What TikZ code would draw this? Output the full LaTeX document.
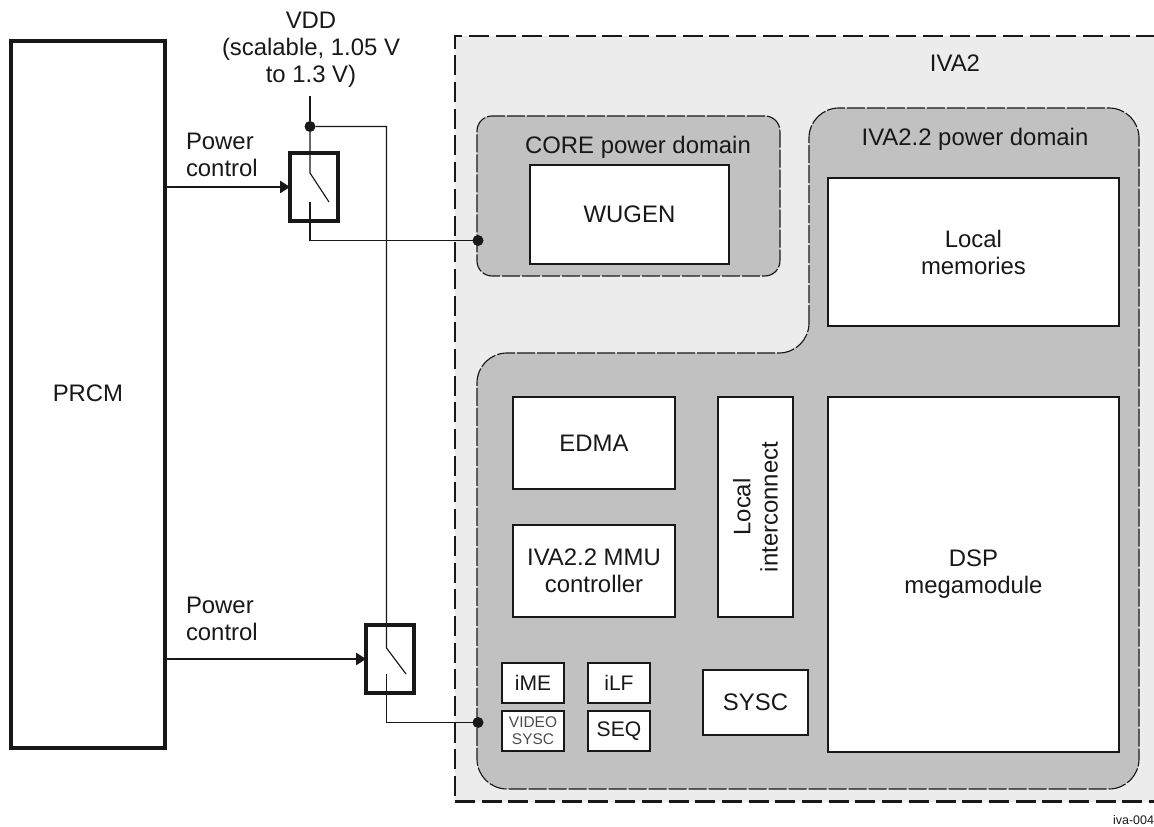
\documentclass[tikz,border=0pt]{standalone}
\usepackage{xcolor}
\usepackage{fontspec}
\setmainfont{Liberation Sans}
\usetikzlibrary{arrows.meta, positioning}
\definecolor{ivagrey}{HTML}{ECECEC}
\definecolor{domgrey}{HTML}{C1C1C1}
\definecolor{inkdark}{HTML}{1A1718}

\begin{document}
\begin{tikzpicture}[x=0.02cm, y=-0.02cm, >={Triangle[length=0.2cm, width=0.25cm]}, line width=0.65pt, draw=inkdark,
        every node/.style={text=inkdark, inner sep=0pt, outer sep=0pt, font=\fontsize{13.6}{15.4}\selectfont},
        block/.style={rectangle, draw=inkdark, fill=white, line width=1.1pt, align=center, anchor=north west},
        smallblock/.style={block, minimum width=1.24cm, minimum height=0.8cm, font=\fontsize{12}{13}\selectfont},
        switchbox/.style={rectangle, draw=inkdark, line width=2pt, anchor=north west, minimum width=0.96cm, minimum height=1.36cm},
        outerdash/.style={draw=inkdark, line width=1.7pt, dash pattern=on 0.4cm off 0.134cm},
        domdash/.style={draw=inkdark, fill=domgrey, line width=0.65pt, dash pattern=on 0.36cm off 0.04cm},
        dot/.style={circle, fill=inkdark, minimum size=0.22cm},
        plain/.style={align=center}]
        \useasboundingbox (0,0) rectangle (1154,827);

        % left block and outer region
        \node (prcm) [block, line width=2pt, minimum width=3.08cm, minimum height=14.14cm] at (11,41) {\raisebox{1.1pt}{PRCM}};
        \node (iva) [rectangle, outerdash, fill=ivagrey, anchor=north west, minimum width=14.04cm, minimum height=15.32cm] at (455,36) {};
        \node (ivalabel) [plain] at (955,63) {IVA2};

        % power domains
        \node (coredom) [rectangle, domdash, rounded corners=0.3cm, anchor=north west, minimum width=6.06cm, minimum height=3.2cm] at (477,116) {};
        \draw[domdash, rounded corners=0.6cm] (809,353) -- (809,108) -- (1139,108) -- (1139,789) -- (477,789) -- (477,353) -- cycle;
        \node (corelabel) [plain] at (638,147) {CORE power domain};
        \node (ivadomlabel) [plain] at (975,139) {IVA2.2 power domain};

        % blocks
        \node (wugen) [block, minimum width=3.98cm, minimum height=1.98cm] at (530,165) {WUGEN};
        \node (dsp) [block, minimum width=5.82cm, minimum height=7.1cm] at (828,397) {DSP\\megamodule};
        \node (mem) [block, minimum width=5.82cm, minimum height=2.96cm, above=1.42cm of dsp.north west, anchor=south west] {Local\\memories};
        \node (edma) [block, minimum width=3.24cm, minimum height=1.84cm] at (513,397) {EDMA};
        \node (mmu) [block, minimum width=3.24cm, minimum height=1.84cm, below=0.72cm of edma.south west, anchor=north west] {IVA2.2 MMU\\controller};
        \node (lic) [block, minimum width=1.5cm, minimum height=4.4cm, right=0.86cm of edma.north east, anchor=north west] {};
        \node (liclabel) [plain, rotate=90] at (lic) {Local\\interconnect};
        \node (sysc) [block, minimum width=2.1cm, minimum height=1.3cm] at (703,670) {SYSC};
        \node (ime) [smallblock] at (502,663) {iME};
        \node (ilf) [smallblock, right=0.48cm of ime.north east, anchor=north west] {iLF};
        \node (video) [smallblock, below=0.16cm of ime.south west, anchor=north west, text=black!70, font=\fontsize{8.8}{9.6}\selectfont] {VIDEO\\SYSC};
        \node (seq) [smallblock, below=0.16cm of ilf.south west, anchor=north west] {SEQ};

        % supply and switches
        \node (vdd) [plain] at (311,50) {VDD\\(scalable, 1.05 V\\to 1.3 V)};
        \node (sw1) [switchbox] at (290,153) {};
        \node (sw2) [switchbox] at (366,625) {};
        \node (vdddot) [dot] at (310,126.5) {};
        \node (corepin) [dot] at (478,240.5) {};
        \node (videopin) [dot] at (478,722.5) {};
        \node (ctrl1) [align=left, anchor=north west] at (186,133) {Power\\control};
        \node (ctrl2) [align=left, anchor=north west] at (186,597) {Power\\control};
        \node (tag) [anchor=east, font=\fontsize{7.1}{8}\selectfont] at (1154,820) {iva-004};

        \coordinate (vddtop) at (310,96);
        \coordinate (sw1top) at (310,173);
        \coordinate (sw1arm) at (329,202);
        \coordinate (sw1low) at (310,202);
        \coordinate (sw2top) at (386.5,648);
        \coordinate (sw2arm) at (406,674);
        \coordinate (sw2low) at (386.5,674);

        \draw (vddtop) -- (vdddot);
        \draw (vdddot) -- (sw1top) -- (sw1arm);
        \draw (sw1low) |- (corepin);
        \draw (vdddot) -| (sw2top) -- (sw2arm);
        \draw (sw2low) |- (videopin);
        \draw[->] (prcm.east |- sw1.west) -- (sw1.west);
        \draw[->] (prcm.east |- sw2.west) -- (sw2.west);
\end{tikzpicture}
\end{document}
